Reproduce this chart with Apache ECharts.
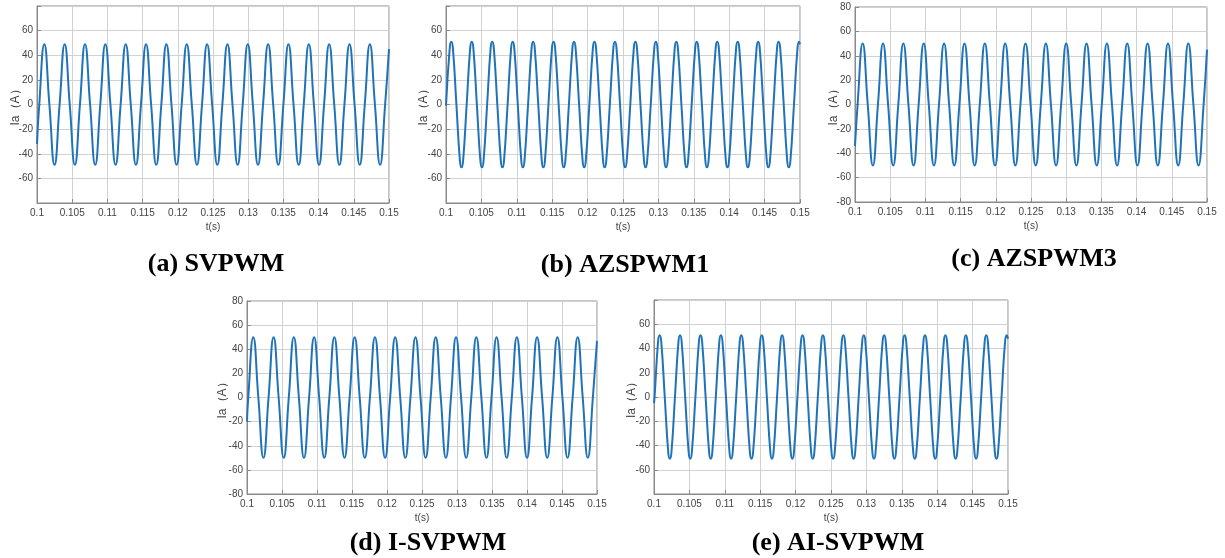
<!DOCTYPE html>
<html>
<head>
<meta charset="utf-8">
<script src="https://cdn.jsdelivr.net/npm/echarts@6/dist/echarts.min.js"></script>
<style>
html,body{margin:0;padding:0;background:#fff;}
#chart{width:1225px;height:558px;}
</style>
</head>
<body>
<div id="chart"></div>
<script>
// ---- data ----
const panelTitles = ['(a) SVPWM', '(b) AZSPWM1', '(c) AZSPWM3', '(d) I-SVPWM', '(e) AI-SVPWM'];
const xTickMin = 0.1, xTickMax = 0.15, xTickStep = 0.005;
const yTickMin = -80, yTickMax = 80, yTickStep = 20;
const hideEndYLabels = [true, true, false, false, true];

// (a) SVPWM : [t, Ia]
const curveA = [
[0.10000,-32],[0.10032,0],[0.10104,49],[0.10176,0],[0.10249,-49],
[0.10321,0],[0.10393,49],[0.10465,0],[0.10538,-49],
[0.10610,0],[0.10682,49],[0.10754,0],[0.10827,-49],
[0.10899,0],[0.10971,49],[0.11043,0],[0.11116,-49],
[0.11188,0],[0.11260,49],[0.11332,0],[0.11405,-49],
[0.11477,0],[0.11549,49],[0.11621,0],[0.11694,-49],
[0.11766,0],[0.11838,49],[0.11910,0],[0.11983,-49],
[0.12055,0],[0.12127,49],[0.12199,0],[0.12272,-49],
[0.12344,0],[0.12416,49],[0.12488,0],[0.12561,-49],
[0.12633,0],[0.12705,49],[0.12777,0],[0.12850,-49],
[0.12922,0],[0.12994,49],[0.13066,0],[0.13139,-49],
[0.13211,0],[0.13283,49],[0.13355,0],[0.13428,-49],
[0.13500,0],[0.13572,49],[0.13644,0],[0.13717,-49],
[0.13789,0],[0.13861,49],[0.13933,0],[0.14006,-49],
[0.14078,0],[0.14150,49],[0.14222,0],[0.14295,-49],
[0.14367,0],[0.14439,49],[0.14511,0],[0.14584,-49],
[0.14656,0],[0.14728,49],[0.14800,0],[0.14873,-49],
[0.14945,0],[0.15000,45]
];

// (b) AZSPWM1 : [t, Ia]
const curveB = [
[0.10000,-1],[0.10053,46],[0.10075,51],[0.10097,46],[0.10147,0],[0.10197,-46],[0.10219,-51],[0.10241,-46],
[0.10292,0],[0.10342,46],[0.10364,51],[0.10386,46],[0.10436,0],[0.10486,-46],[0.10508,-51],[0.10530,-46],
[0.10581,0],[0.10631,46],[0.10653,51],[0.10675,46],[0.10725,0],[0.10775,-46],[0.10797,-51],[0.10819,-46],
[0.10870,0],[0.10920,46],[0.10942,51],[0.10964,46],[0.11014,0],[0.11064,-46],[0.11086,-51],[0.11108,-46],
[0.11159,0],[0.11209,46],[0.11231,51],[0.11253,46],[0.11303,0],[0.11353,-46],[0.11375,-51],[0.11397,-46],
[0.11447,0],[0.11497,46],[0.11519,51],[0.11541,46],[0.11591,0],[0.11641,-46],[0.11663,-51],[0.11685,-46],
[0.11736,0],[0.11786,46],[0.11808,51],[0.11830,46],[0.11880,0],[0.11930,-46],[0.11952,-51],[0.11974,-46],
[0.12025,0],[0.12075,46],[0.12097,51],[0.12119,46],[0.12169,0],[0.12219,-46],[0.12241,-51],[0.12263,-46],
[0.12314,0],[0.12364,46],[0.12386,51],[0.12408,46],[0.12458,0],[0.12508,-46],[0.12530,-51],[0.12552,-46],
[0.12603,0],[0.12653,46],[0.12675,51],[0.12697,46],[0.12747,0],[0.12797,-46],[0.12819,-51],[0.12841,-46],
[0.12892,0],[0.12942,46],[0.12964,51],[0.12986,46],[0.13036,0],[0.13086,-46],[0.13108,-51],[0.13130,-46],
[0.13181,0],[0.13231,46],[0.13253,51],[0.13275,46],[0.13325,0],[0.13375,-46],[0.13397,-51],[0.13419,-46],
[0.13470,0],[0.13520,46],[0.13542,51],[0.13564,46],[0.13614,0],[0.13664,-46],[0.13686,-51],[0.13708,-46],
[0.13759,0],[0.13809,46],[0.13831,51],[0.13853,46],[0.13903,0],[0.13953,-46],[0.13975,-51],[0.13997,-46],
[0.14048,0],[0.14098,46],[0.14120,51],[0.14142,46],[0.14192,0],[0.14242,-46],[0.14264,-51],[0.14286,-46],
[0.14337,0],[0.14387,46],[0.14409,51],[0.14431,46],[0.14481,0],[0.14531,-46],[0.14553,-51],[0.14575,-46],
[0.14626,0],[0.14676,46],[0.14698,51],[0.14720,46],[0.14770,0],[0.14820,-46],[0.14842,-51],[0.14864,-46],
[0.14915,0],[0.14965,46],[0.14987,51],[0.15000,49]
];

// (c) AZSPWM3 : [t, Ia]
const curveC = [
[0.10000,-34],[0.10037,0],[0.10109,50],[0.10181,0],[0.10254,-50],
[0.10326,0],[0.10398,50],[0.10470,0],[0.10543,-50],
[0.10615,0],[0.10687,50],[0.10759,0],[0.10832,-50],
[0.10904,0],[0.10976,50],[0.11048,0],[0.11121,-50],
[0.11193,0],[0.11265,50],[0.11337,0],[0.11410,-50],
[0.11483,0],[0.11555,50],[0.11627,0],[0.11700,-50],
[0.11772,0],[0.11844,50],[0.11916,0],[0.11989,-50],
[0.12061,0],[0.12133,50],[0.12205,0],[0.12278,-50],
[0.12350,0],[0.12422,50],[0.12494,0],[0.12567,-50],
[0.12639,0],[0.12711,50],[0.12783,0],[0.12856,-50],
[0.12928,0],[0.13000,50],[0.13072,0],[0.13145,-50],
[0.13217,0],[0.13289,50],[0.13361,0],[0.13434,-50],
[0.13506,0],[0.13578,50],[0.13650,0],[0.13723,-50],
[0.13795,0],[0.13867,50],[0.13939,0],[0.14012,-50],
[0.14084,0],[0.14156,50],[0.14228,0],[0.14301,-50],
[0.14374,0],[0.14446,50],[0.14518,0],[0.14591,-50],
[0.14663,0],[0.14735,50],[0.14807,0],[0.14880,-50],
[0.14952,0],[0.15000,45]
];

// (d) I-SVPWM : [t, Ia]
const curveD = [
[0.10000,-20],[0.10018,0],[0.10090,50],[0.10162,0],[0.10235,-50],
[0.10308,0],[0.10380,50],[0.10452,0],[0.10525,-50],
[0.10597,0],[0.10669,50],[0.10741,0],[0.10814,-50],
[0.10887,0],[0.10959,50],[0.11031,0],[0.11104,-50],
[0.11176,0],[0.11248,50],[0.11320,0],[0.11393,-50],
[0.11466,0],[0.11538,50],[0.11610,0],[0.11683,-50],
[0.11756,0],[0.11828,50],[0.11900,0],[0.11973,-50],
[0.12045,0],[0.12117,50],[0.12189,0],[0.12262,-50],
[0.12335,0],[0.12407,50],[0.12479,0],[0.12552,-50],
[0.12624,0],[0.12696,50],[0.12768,0],[0.12841,-50],
[0.12914,0],[0.12986,50],[0.13058,0],[0.13131,-50],
[0.13204,0],[0.13276,50],[0.13348,0],[0.13421,-50],
[0.13493,0],[0.13565,50],[0.13637,0],[0.13710,-50],
[0.13783,0],[0.13855,50],[0.13927,0],[0.14000,-50],
[0.14072,0],[0.14144,50],[0.14216,0],[0.14289,-50],
[0.14362,0],[0.14434,50],[0.14506,0],[0.14579,-50],
[0.14652,0],[0.14724,50],[0.14796,0],[0.14869,-50],
[0.14941,0],[0.15000,47]
];

// (e) AI-SVPWM : [t, Ia]
const curveE = [
[0.10000,-5],[0.10008,0],[0.10058,46],[0.10080,51],[0.10102,46],[0.10152,0],[0.10202,-46],[0.10224,-51],[0.10246,-46],
[0.10296,0],[0.10346,46],[0.10368,51],[0.10390,46],[0.10440,0],[0.10490,-46],[0.10512,-51],[0.10534,-46],
[0.10585,0],[0.10635,46],[0.10657,51],[0.10679,46],[0.10729,0],[0.10779,-46],[0.10801,-51],[0.10823,-46],
[0.10873,0],[0.10923,46],[0.10945,51],[0.10967,46],[0.11017,0],[0.11067,-46],[0.11089,-51],[0.11111,-46],
[0.11161,0],[0.11211,46],[0.11233,51],[0.11255,46],[0.11305,0],[0.11355,-46],[0.11377,-51],[0.11399,-46],
[0.11450,0],[0.11500,46],[0.11522,51],[0.11544,46],[0.11594,0],[0.11644,-46],[0.11666,-51],[0.11688,-46],
[0.11738,0],[0.11788,46],[0.11810,51],[0.11832,46],[0.11882,0],[0.11932,-46],[0.11954,-51],[0.11976,-46],
[0.12026,0],[0.12076,46],[0.12098,51],[0.12120,46],[0.12170,0],[0.12220,-46],[0.12242,-51],[0.12264,-46],
[0.12314,0],[0.12364,46],[0.12386,51],[0.12408,46],[0.12458,0],[0.12508,-46],[0.12530,-51],[0.12552,-46],
[0.12603,0],[0.12653,46],[0.12675,51],[0.12697,46],[0.12747,0],[0.12797,-46],[0.12819,-51],[0.12841,-46],
[0.12891,0],[0.12941,46],[0.12963,51],[0.12985,46],[0.13035,0],[0.13085,-46],[0.13107,-51],[0.13129,-46],
[0.13179,0],[0.13229,46],[0.13251,51],[0.13273,46],[0.13323,0],[0.13373,-46],[0.13395,-51],[0.13417,-46],
[0.13468,0],[0.13518,46],[0.13540,51],[0.13562,46],[0.13612,0],[0.13662,-46],[0.13684,-51],[0.13706,-46],
[0.13756,0],[0.13806,46],[0.13828,51],[0.13850,46],[0.13900,0],[0.13950,-46],[0.13972,-51],[0.13994,-46],
[0.14044,0],[0.14094,46],[0.14116,51],[0.14138,46],[0.14188,0],[0.14238,-46],[0.14260,-51],[0.14282,-46],
[0.14333,0],[0.14383,46],[0.14405,51],[0.14427,46],[0.14477,0],[0.14527,-46],[0.14549,-51],[0.14571,-46],
[0.14621,0],[0.14671,46],[0.14693,51],[0.14715,46],[0.14765,0],[0.14815,-46],[0.14837,-51],[0.14859,-46],
[0.14909,0],[0.14959,46],[0.14981,51],[0.15000,48]
];

const curves = [curveA, curveB, curveC, curveD, curveE];

// ---- layout (pixels) ----
const grids = [
  {left: 37,  top: 6,   width: 352, height: 197},
  {left: 446, top: 6,   width: 354, height: 197},
  {left: 855, top: 7,   width: 352, height: 195},
  {left: 247, top: 301, width: 350, height: 193},
  {left: 654, top: 300, width: 354, height: 194}
];
const titlePos = [[211, 246], [620, 247], [1029, 241], [423, 525], [833, 525]];
const yNameGap = [15, 16, 15, 18, 16];

const lineColor = '#2073b8';
const textColor = '#444';
const font = 'Liberation Sans, Arial, sans-serif';

const chart = echarts.init(document.getElementById('chart'), null, {renderer: 'canvas'});

const option = {
  animation: false,
  backgroundColor: '#fff',
  title: panelTitles.map((t, i) => ({
    text: t,
    left: titlePos[i][0],
    top: titlePos[i][1],
    textAlign: 'center',
    textStyle: {fontFamily: 'Liberation Serif, Times New Roman, serif', fontWeight: 'bold', fontSize: 26, color: '#000'}
  })),
  grid: grids.map(g => Object.assign({show: true, borderColor: '#8a8a8a', borderWidth: 1, backgroundColor: '#fff', containLabel: false}, g)),
  xAxis: grids.map((g, i) => ({
    type: 'value', gridIndex: i,
    min: xTickMin, max: xTickMax, interval: xTickStep,
    name: 't(s)', nameLocation: 'middle', nameGap: 19, nameMoveOverlap: false,
    nameTextStyle: {color: textColor, fontSize: 10, fontFamily: font},
    axisLine: {show: true, onZero: false, lineStyle: {color: '#8a8a8a', width: 1}},
    axisTick: {show: true, inside: true, length: 4, lineStyle: {color: '#8a8a8a'}},
    axisLabel: {color: textColor, fontSize: 10, fontFamily: font, margin: 5,
      formatter: v => String(Math.round(v * 1000) / 1000)},
    splitLine: {show: true, lineStyle: {color: '#d2d2d2', width: 1}}
  })),
  yAxis: grids.map((g, i) => ({
    type: 'value', gridIndex: i,
    min: yTickMin, max: yTickMax, interval: yTickStep,
    name: 'Ia（A）', nameLocation: 'middle', nameGap: yNameGap[i], nameRotate: 90, nameMoveOverlap: false,
    nameTextStyle: {color: textColor, fontSize: 12, fontFamily: font},
    axisLine: {show: true, onZero: false, lineStyle: {color: '#8a8a8a', width: 1}},
    axisTick: {show: true, inside: true, length: 4, lineStyle: {color: '#8a8a8a'}},
    axisLabel: {color: textColor, fontSize: 10, fontFamily: font, margin: 4,
      formatter: v => (hideEndYLabels[i] && Math.abs(v) === 80) ? '' : String(v)},
    splitLine: {show: true, lineStyle: {color: '#d2d2d2', width: 1}}
  })),
  series: curves.map((c, i) => ({
    type: 'line', xAxisIndex: i, yAxisIndex: i,
    data: c, showSymbol: false, smooth: 0.5,
    lineStyle: {color: lineColor, width: 2},
    clip: true
  }))
};
chart.setOption(option);
</script>
</body>
</html>
